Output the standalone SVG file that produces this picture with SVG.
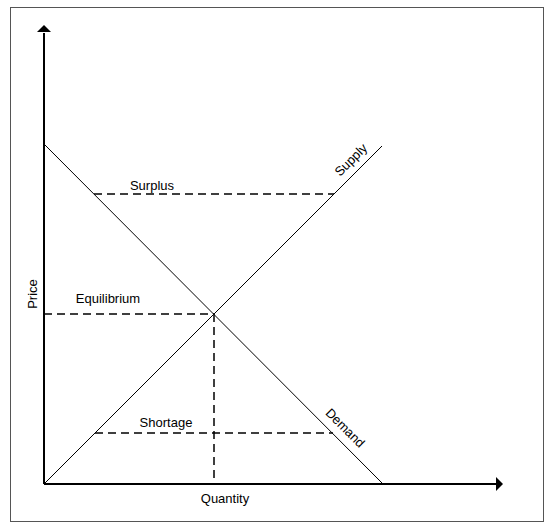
<svg xmlns="http://www.w3.org/2000/svg" width="545" height="523" viewBox="0 0 545 523">
<defs>
<style>
.axis{stroke:#000;stroke-width:2;fill:none}
.curve{stroke:#000;stroke-width:1;fill:none}
.dash{stroke:#000;stroke-width:1.5;fill:none;stroke-dasharray:8 5}
text{font-family:"Liberation Sans",Arial,sans-serif;font-size:13px;fill:#000}
</style>
</defs>
<rect x="10.5" y="7.5" width="533" height="514" fill="#fff" stroke="#555" stroke-width="1"/>
<g id="connectors">
<line class="axis" x1="44" y1="484" x2="44" y2="33"/>
<path d="M37,32 L44,25 L51,32 Z" fill="#000"/>
<line class="axis" x1="44" y1="484" x2="496" y2="484"/>
<path d="M496,477 L503,484 L496,491 Z" fill="#000"/>
<line class="curve" x1="44" y1="144" x2="383" y2="484"/>
<line class="curve" x1="44" y1="484" x2="382" y2="146"/>
<line class="dash" x1="94" y1="194" x2="334" y2="194"/>
<line class="dash" x1="44" y1="314" x2="214" y2="314"/>
<line class="dash" x1="214" y1="314" x2="214" y2="484"/>
<line class="dash" x1="95" y1="433" x2="333" y2="433"/>
</g>
<g id="labels">
<text x="152" y="190" text-anchor="middle">Surplus</text>
<text x="108" y="303" text-anchor="middle">Equilibrium</text>
<text x="166" y="427" text-anchor="middle">Shortage</text>
<text x="225" y="503" text-anchor="middle">Quantity</text>
<text transform="translate(37,294) rotate(-90)" text-anchor="middle">Price</text>
<text transform="translate(354,163) rotate(-45)" text-anchor="middle">Supply</text>
<text transform="translate(342,431) rotate(45)" text-anchor="middle">Demand</text>
</g>
</svg>
